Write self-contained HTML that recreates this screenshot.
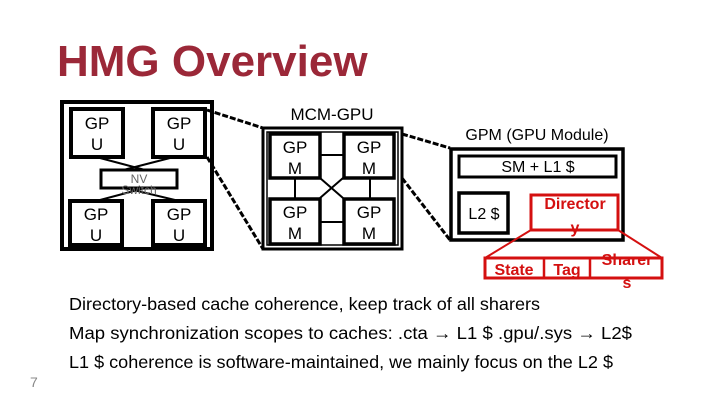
<!DOCTYPE html>
<html><head><meta charset="utf-8"><style>
body{margin:0;background:#fff}
svg{display:block}
text{font-family:"Liberation Sans",sans-serif}
</style></head><body>
<svg width="720" height="405" viewBox="0 0 720 405" xmlns="http://www.w3.org/2000/svg">
<text x="57" y="76" font-size="44" font-weight="bold" fill="#9b2838">HMG Overview</text>

<!-- left multi-GPU -->
<rect x="62" y="102" width="150" height="147" fill="none" stroke="#000" stroke-width="4"/>
<line x1="100" y1="158" x2="175" y2="178" stroke="#000" stroke-width="2"/>
<line x1="170" y1="158" x2="100" y2="176" stroke="#000" stroke-width="2"/>
<line x1="100" y1="200" x2="175" y2="180" stroke="#000" stroke-width="2"/>
<line x1="175" y1="200" x2="100" y2="182" stroke="#000" stroke-width="2"/>
<rect x="101" y="170" width="76" height="18" fill="#fff" stroke="#000" stroke-width="3"/>
<text x="139" y="183" font-size="12" fill="#666" text-anchor="middle">NV</text>
<text x="139" y="194" font-size="12" fill="#666" text-anchor="middle">Switch</text>
<g fill="#fff" stroke="#000" stroke-width="4">
<rect x="71" y="109" width="52" height="48"/><rect x="153" y="109" width="52" height="48"/>
<rect x="70" y="201" width="52" height="44"/><rect x="153" y="201" width="52" height="44"/>
</g>
<g font-size="17" text-anchor="middle" fill="#000">
<text x="97" y="129">GP</text><text x="97" y="150">U</text>
<text x="179" y="129">GP</text><text x="179" y="150">U</text>
<text x="96" y="220">GP</text><text x="96" y="241">U</text>
<text x="179" y="220">GP</text><text x="179" y="241">U</text>
</g>

<!-- dashed connectors -->
<g stroke="#000" stroke-width="3" stroke-dasharray="6,2">
<line x1="207" y1="110" x2="263" y2="128"/>
<line x1="207" y1="157" x2="263" y2="249"/>
<line x1="402" y1="134" x2="450" y2="148"/>
<line x1="402" y1="178" x2="450" y2="240"/>
</g>

<!-- MCM -->
<text x="332" y="120" font-size="17" text-anchor="middle">MCM-GPU</text>
<rect x="263" y="128" width="139" height="121" fill="#fff" stroke="#000" stroke-width="3"/>
<rect x="267" y="132" width="131" height="113" fill="none" stroke="#000" stroke-width="1.5"/>
<g stroke="#000" stroke-width="2">
<line x1="320" y1="155" x2="343" y2="155"/>
<line x1="320" y1="222" x2="343" y2="222"/>
<line x1="295" y1="178" x2="295" y2="198"/>
<line x1="370" y1="178" x2="370" y2="198"/>
<line x1="320" y1="178" x2="343" y2="198"/>
<line x1="343" y1="178" x2="320" y2="198"/>
</g>
<g fill="#fff" stroke="#000" stroke-width="3.5">
<rect x="270" y="134" width="50" height="44"/><rect x="344" y="134" width="50" height="44"/>
<rect x="270" y="199" width="50" height="45"/><rect x="344" y="199" width="50" height="45"/>
</g>
<g font-size="17" text-anchor="middle">
<text x="295" y="153">GP</text><text x="295" y="174">M</text>
<text x="369" y="153">GP</text><text x="369" y="174">M</text>
<text x="295" y="218">GP</text><text x="295" y="239">M</text>
<text x="369" y="218">GP</text><text x="369" y="239">M</text>
</g>

<!-- GPM -->
<text x="537" y="140" font-size="16" text-anchor="middle">GPM (GPU Module)</text>
<rect x="451" y="149" width="172" height="91" fill="#fff" stroke="#000" stroke-width="3.5"/>
<rect x="459" y="156" width="157" height="21" fill="none" stroke="#000" stroke-width="3"/>
<text x="538" y="172" font-size="16" text-anchor="middle">SM + L1 $</text>
<rect x="459" y="193" width="49" height="40" fill="none" stroke="#000" stroke-width="3.5"/>
<text x="484" y="219" font-size="16" text-anchor="middle">L2 $</text>
<rect x="531" y="195" width="87" height="35" fill="none" stroke="#d41010" stroke-width="3"/>
<g fill="#d41010" font-weight="bold" font-size="16" text-anchor="middle">
<text x="575" y="209">Director</text><text x="575" y="233">y</text>
</g>
<g stroke="#d41010" stroke-width="2">
<line x1="531" y1="230" x2="485" y2="258"/>
<line x1="618" y1="230" x2="662" y2="258"/>
</g>
<rect x="485" y="258" width="177" height="20" fill="none" stroke="#d41010" stroke-width="3"/>
<line x1="544" y1="258" x2="544" y2="278" stroke="#d41010" stroke-width="2.5"/>
<line x1="590" y1="258" x2="590" y2="278" stroke="#d41010" stroke-width="2.5"/>
<g fill="#d41010" font-weight="bold" font-size="16" text-anchor="middle">
<text x="514" y="275">State</text><text x="567" y="275">Tag</text>
<text x="627" y="265">Sharer</text><text x="627" y="288">s</text>
</g>

<!-- bullets -->
<g font-size="17.5" fill="#000">
<text x="69" y="310" textLength="471" lengthAdjust="spacingAndGlyphs">Directory-based cache coherence, keep track of all sharers</text>
<text x="69" y="339" textLength="563" lengthAdjust="spacingAndGlyphs">Map synchronization scopes to caches:  .cta → L1 $   .gpu/.sys → L2$</text>
<text x="69" y="368" textLength="544" lengthAdjust="spacingAndGlyphs">L1 $ coherence is software-maintained, we mainly focus on the L2 $</text>
</g>
<text x="30" y="387" font-size="14" fill="#888">7</text>
</svg>
</body></html>
